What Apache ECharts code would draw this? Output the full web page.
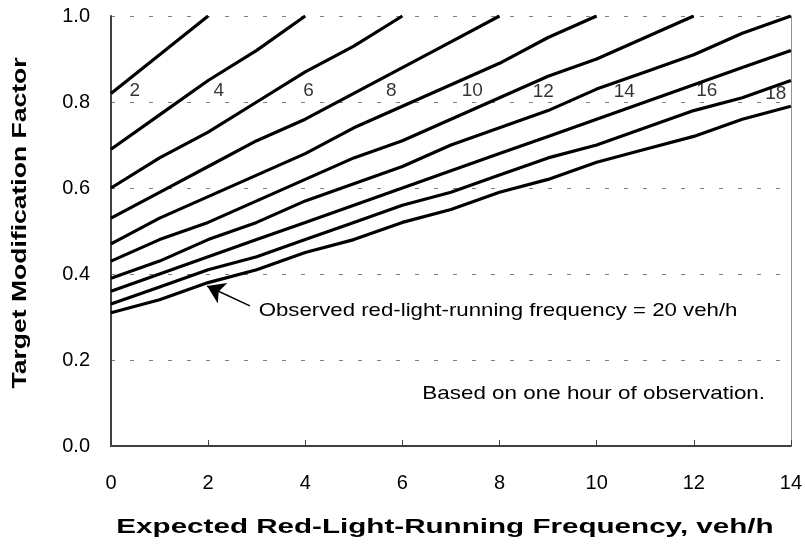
<!DOCTYPE html>
<html>
<head>
<meta charset="utf-8">
<script src="https://cdn.jsdelivr.net/npm/echarts@6/dist/echarts.min.js"></script>
<style>
  html, body { margin: 0; padding: 0; background: #ffffff; }
  #chart { width: 805px; height: 545px; }
</style>
</head>
<body>
<div id="chart"></div>
<script>
// Expected red-light-running frequency (veh/h) sampled along the x axis
const expectedFreq = [0, 1, 2, 3, 4, 5, 6, 7, 8, 9, 10, 11, 12, 13, 14];

// Target modification factor for each observed frequency (veh/h)
const tmfObs2  = [0.82, 0.91, 1.00];
const tmfObs4  = [0.69, 0.77, 0.85, 0.92, 1.00];
const tmfObs6  = [0.60, 0.67, 0.73, 0.80, 0.87, 0.93, 1.00];
const tmfObs8  = [0.53, 0.59, 0.65, 0.71, 0.76, 0.82, 0.88, 0.94, 1.00];
const tmfObs10 = [0.47, 0.53, 0.58, 0.63, 0.68, 0.74, 0.79, 0.84, 0.89, 0.95, 1.00];
const tmfObs12 = [0.43, 0.48, 0.52, 0.57, 0.62, 0.67, 0.71, 0.76, 0.81, 0.86, 0.90, 0.95, 1.00];
const tmfObs14 = [0.39, 0.43, 0.48, 0.52, 0.57, 0.61, 0.65, 0.70, 0.74, 0.78, 0.83, 0.87, 0.91, 0.96, 1.00];
const tmfObs16 = [0.36, 0.40, 0.44, 0.48, 0.52, 0.56, 0.60, 0.64, 0.68, 0.72, 0.76, 0.80, 0.84, 0.88, 0.92];
const tmfObs18 = [0.33, 0.37, 0.41, 0.44, 0.48, 0.52, 0.56, 0.59, 0.63, 0.67, 0.70, 0.74, 0.78, 0.81, 0.85];
const tmfObs20 = [0.31, 0.34, 0.38, 0.41, 0.45, 0.48, 0.52, 0.55, 0.59, 0.62, 0.66, 0.69, 0.72, 0.76, 0.79];

const curveNames = ['2', '4', '6', '8', '10', '12', '14', '16', '18', '20'];
const curveValues = [tmfObs2, tmfObs4, tmfObs6, tmfObs8, tmfObs10, tmfObs12, tmfObs14, tmfObs16, tmfObs18, tmfObs20];

// Curve labels (observed frequency) placed along the 0.8 gridline
const curveLabelText = ['2', '4', '6', '8', '10', '12', '14', '16', '18'];
const curveLabelX = [0.49, 2.22, 4.07, 5.77, 7.44, 8.90, 10.57, 12.27, 13.69];
const curveLabelY = [0.826, 0.826, 0.826, 0.826, 0.826, 0.824, 0.824, 0.826, 0.819];

// Axis ticks
const xTicks = { min: 0, max: 14, step: 2 };
const yTicks = { min: 0, max: 1.0, step: 0.2 };

// Axis titles
const xTitle = 'Expected Red-Light-Running Frequency, veh/h';
const yTitle = 'Target Modification Factor';

// Notes drawn inside the plot (anchored in data units)
const arrowFrom = [2.86, 0.326];
const arrowTo = [1.98, 0.372];
const noteObserved = { x: 3.04, y: 0.315, text: 'Observed red-light-running frequency = 20 veh/h' };
const noteBasis = { x: 6.41, y: 0.121, text: 'Based on one hour of observation.' };

const FONT = '"Liberation Sans", Arial, sans-serif';

const curveSeries = curveValues.map((vals, i) => ({
  name: curveNames[i],
  type: 'line',
  data: vals.map((v, j) => [expectedFreq[j], v]),
  showSymbol: false,
  symbol: 'none',
  clip: true,
  lineStyle: { color: '#000000', width: 3.2 },
  z: 3,
  silent: true
}));

const chart = echarts.init(document.getElementById('chart'), null, { renderer: 'canvas' });

chart.setOption({
  animation: false,
  backgroundColor: '#ffffff',
  grid: { left: 111, right: 13, top: 16, bottom: 99 },
  xAxis: {
    type: 'value',
    min: xTicks.min, max: xTicks.max, interval: xTicks.step,
    axisLine: { show: true, lineStyle: { color: '#404040', width: 2 } },
    axisTick: { show: true, inside: true, length: 6, lineStyle: { color: '#404040', width: 1 } },
    axisLabel: { fontFamily: FONT, fontSize: 20, color: '#000', margin: 27 },
    splitLine: { show: false }
  },
  yAxis: [{
    type: 'value',
    min: yTicks.min, max: yTicks.max, interval: yTicks.step,
    axisLine: { show: true, lineStyle: { color: '#404040', width: 2 } },
    axisTick: { show: false },
    axisLabel: { fontFamily: FONT, fontSize: 20, color: '#000', margin: 21,
      formatter: v => v.toFixed(1) },
    splitLine: { show: true, lineStyle: { color: '#808080', width: 1, type: [4, 15] } }
  }, {
    type: 'value',
    position: 'right',
    min: yTicks.min, max: yTicks.max, interval: yTicks.step,
    axisLine: { show: true, onZero: false, lineStyle: { color: '#909090', width: 1 } },
    axisTick: { show: false },
    axisLabel: { show: false },
    splitLine: { show: false }
  }],
  series: curveSeries.concat([
    {
      type: 'scatter',
      symbolSize: 0,
      silent: true,
      z: 4,
      data: curveLabelText.map((t, i) => [curveLabelX[i], curveLabelY[i], t]),
      label: {
        show: true, position: 'inside',
        formatter: p => p.data[2],
        fontFamily: FONT, fontSize: 19, color: '#000'
      }
    },
    {
      type: 'lines',
      coordinateSystem: 'cartesian2d',
      silent: true,
      z: 4,
      symbol: ['none', 'arrow'],
      symbolSize: [13, 17],
      lineStyle: { color: '#000000', width: 1.5, opacity: 1 },
      data: [{ coords: [arrowFrom, arrowTo] }]
    }
  ])
});

// Widely set text: notes and axis titles, stretched horizontally
const obsPx = chart.convertToPixel({ gridIndex: 0 }, [noteObserved.x, noteObserved.y]);
const basisPx = chart.convertToPixel({ gridIndex: 0 }, [noteBasis.x, noteBasis.y]);

chart.setOption({
  graphic: [
    {
      type: 'text', x: obsPx[0], y: obsPx[1], scaleX: 1.17, silent: true, z: 10,
      style: { text: noteObserved.text, font: '19px ' + FONT, fill: '#000',
        textAlign: 'left', textVerticalAlign: 'middle' }
    },
    {
      type: 'text', x: basisPx[0], y: basisPx[1], scaleX: 1.18, silent: true, z: 10,
      style: { text: noteBasis.text, font: '19px ' + FONT, fill: '#000',
        textAlign: 'left', textVerticalAlign: 'middle' }
    },
    {
      type: 'text', x: 445, y: 527, scaleX: 1.48, silent: true, z: 10,
      style: { text: xTitle, font: 'bold 20px ' + FONT, fill: '#000',
        textAlign: 'center', textVerticalAlign: 'middle' }
    },
    {
      type: 'text', x: 21, y: 223, rotation: Math.PI / 2, scaleX: 1.36, silent: true, z: 10,
      style: { text: yTitle, font: 'bold 19.5px ' + FONT, fill: '#000',
        textAlign: 'center', textVerticalAlign: 'middle' }
    }
  ]
});
</script>
</body>
</html>
